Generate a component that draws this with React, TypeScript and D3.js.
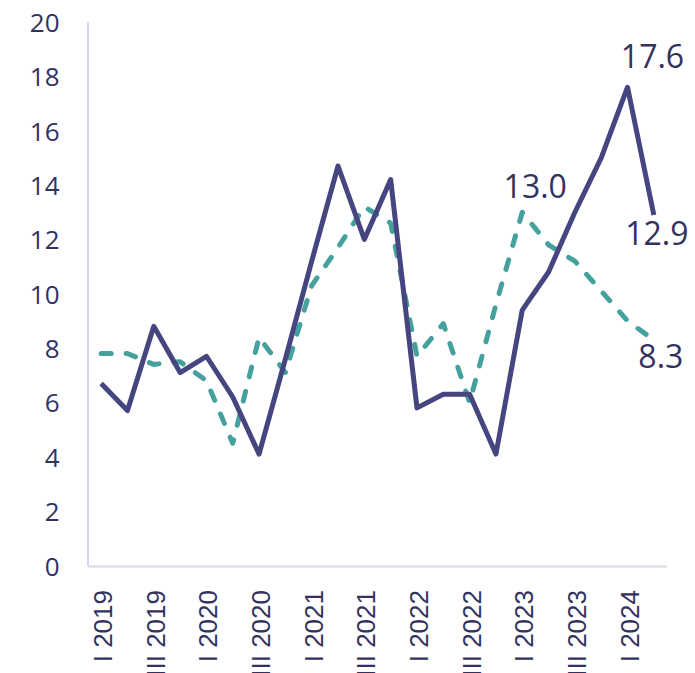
import React from "react";
import * as d3 from "d3";

const years = ["2019", "2020", "2021", "2022", "2023", "2024"];
const quarterNames = ["I", "II", "III", "IV"];
const categories: string[] = [];
years.forEach((y) => quarterNames.forEach((q) => categories.push(`${q} ${y}`)));
const quarters = categories.slice(0, 22);

const solidValues = [6.7, 5.7, 8.8, 7.1, 7.7, 6.2, 4.1, 7.6, 11.2, 14.7, 12.0, 14.2, 5.8, 6.3, 6.3, 4.1, 9.4, 10.8, 13.0, 15.0, 17.6, 12.9];
const dashedValues = [7.8, 7.8, 7.4, 7.5, 6.8, 4.5, 8.4, 7.1, 10.3, 11.7, 13.2, 12.6, 7.7, 8.9, 6.0, 9.6, 13.0, 11.8, 11.2, 10.1, 9.0, 8.3];
const yTicks = [0, 2, 4, 6, 8, 10, 12, 14, 16, 18, 20];

const labels = [
  { series: "solid", index: 20, text: "17.6", dx: 25, dy: -19 },
  { series: "solid", index: 21, text: "12.9", dx: 3, dy: 30 },
  { series: "dashed", index: 16, text: "13.0", dx: 13, dy: -14 },
  { series: "dashed", index: 21, text: "8.3", dx: 7, dy: 28 },
];

const W = 695;
const H = 673;
const left = 88;
const right = 667;
const top = 22;
const bottom = 565.5;

export default function App() {
  const x = d3.scaleBand<string>().domain(quarters).range([left, right]).padding(0);
  const y = d3.scaleLinear().domain([0, 20]).range([bottom, top]);
  const cx = (i: number) => (x(quarters[i]) as number) + x.bandwidth() / 2;
  const line = d3
    .line<number>()
    .x((_, i) => cx(i))
    .y((d) => y(d));

  const textColor = "#33325e";
  const solidColor = "#45457f";
  const dashColor = "#45a19e";
  const axisColor = "#d6d6ec";

  return (
    <svg width={W} height={H} style={{ position: "absolute", left: 0, top: 0, background: "#fff" }}>
      <line x1={left} x2={left} y1={top} y2={bottom + 1} stroke={axisColor} strokeWidth={2} />
      <line x1={left} x2={right} y1={bottom + 1} y2={bottom + 1} stroke={axisColor} strokeWidth={2} />
      {yTicks.map((t) => (
        <text
          key={t}
          x={59.5}
          y={y(t)}
          textAnchor="end"
          dominantBaseline="central"
          fontFamily="'Open Sans', sans-serif"
          fontSize={26}
          fill={textColor}
        >
          {t}
        </text>
      ))}
      {quarters.map((q, i) =>
        i % 2 === 0 ? (
          <text
            key={q}
            transform={`translate(${cx(i) + 2},590) rotate(-90)`}
            textAnchor="end"
            dominantBaseline="central"
            fontFamily="'Liberation Sans', Arial, sans-serif"
            fontSize={26}
            fill={textColor}
          >
            {q}
          </text>
        ) : null
      )}
      <path
        d={line(dashedValues) as string}
        fill="none"
        stroke={dashColor}
        strokeWidth={5}
        strokeDasharray="10 15"
        strokeLinecap="round"
        strokeLinejoin="round"
      />
      <path
        d={line(solidValues) as string}
        fill="none"
        stroke={solidColor}
        strokeWidth={5}
        strokeLinejoin="round"
      />
      {labels.map((l) => {
        const v = l.series === "solid" ? solidValues[l.index] : dashedValues[l.index];
        return (
          <text
            key={l.text}
            x={cx(l.index) + l.dx}
            y={y(v) + l.dy}
            textAnchor="middle"
            fontFamily="'Open Sans', sans-serif"
            fontSize={32}
            fill={textColor}
          >
            {l.text}
          </text>
        );
      })}
    </svg>
  );
}
